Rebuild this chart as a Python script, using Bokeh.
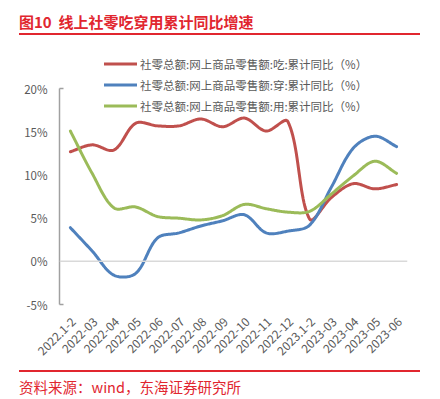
import numpy as np
from math import pi
from bokeh.plotting import figure
from bokeh.models import (Div, Span, Legend, LegendItem, FixedTicker, Range1d, LinearAxis)
from bokeh.layouts import column
from bokeh.embed import file_html
from bokeh.resources import INLINE

categories = ["2022.1-2", "2022-03", "2022-04", "2022-05", "2022-06", "2022-07",
              "2022-08", "2022-09", "2022-10", "2022-11", "2022-12", "2023.1-2",
              "2023-03", "2023-04", "2023-05", "2023-06"]
eat = [12.7, 13.5, 12.9, 16.0, 15.7, 15.7, 16.5, 15.6, 16.6, 15.1, 16.2, 4.9,
       7.4, 9.0, 8.4, 8.9]
wear = [3.9, 1.2, -1.6, -1.4, 2.7, 3.3, 4.1, 4.7, 5.4, 3.3, 3.5, 4.2,
        8.6, 13.1, 14.5, 13.3]
use = [15.1, 10.2, 6.2, 6.3, 5.2, 5.0, 4.8, 5.3, 6.6, 6.1, 5.7, 5.8,
       7.8, 9.9, 11.6, 10.2]
labels = ["社零总额:网上商品零售额:吃:累计同比（%）",
          "社零总额:网上商品零售额:穿:累计同比（%）",
          "社零总额:网上商品零售额:用:累计同比（%）"]
colors = ["#C0504D", "#4F81BD", "#9BBB59"]
yticks = [-5, 0, 5, 10, 15, 20]

FONT = "Noto Sans CJK SC"
RED = "#E1262F"
GRAY = "#595959"

# approximate pixel scale (px per unit) used only to shape the smoothing
SX, SY = 21.75, 8.54


def smooth(xs, ys, n=24):
    P = np.column_stack([np.asarray(xs, float) * SX, np.asarray(ys, float) * SY])
    m = len(P)
    tang = []
    for i in range(m):
        p0 = P[i - 1] if i > 0 else P[i]
        p2 = P[i + 1] if i < m - 1 else P[i]
        tang.append(p2 - p0)
    out_x, out_y = [], []
    t = np.linspace(0, 1, n, endpoint=False)
    for i in range(m - 1):
        p1, p2 = P[i], P[i + 1]
        d12 = np.linalg.norm(p2 - p1)
        d01 = np.linalg.norm(p1 - P[i - 1]) if i > 0 else d12
        d23 = np.linalg.norm(P[i + 2] - p2) if i + 2 < m else d12
        if i == 0:
            c1 = p1 + (p2 - p1) / 3.0
        else:
            c1 = p1 + tang[i] * (d12 / (d01 + d12)) / 3.0
        if i + 2 >= m:
            c2 = p2 - (p2 - p1) / 3.0
        else:
            c2 = p2 - tang[i + 1] * (d12 / (d12 + d23)) / 3.0
        for tt in t:
            b = ((1 - tt) ** 3) * p1 + 3 * ((1 - tt) ** 2) * tt * c1 \
                + 3 * (1 - tt) * tt * tt * c2 + tt ** 3 * p2
            out_x.append(b[0] / SX)
            out_y.append(b[1] / SY)
    out_x.append(P[-1][0] / SX)
    out_y.append(P[-1][1] / SY)
    return out_x, out_y


n = len(categories)
shift = 0.14  # label offset so rotated labels end just right of each point
p = figure(width=424, height=316, output_backend="svg", toolbar_location=None,
           x_range=Range1d(-0.5, n - 0.5), y_range=Range1d(-5, 24.55),
           x_axis_location=None,
           min_border_left=59, min_border_right=17, min_border_top=3,
           min_border_bottom=58)
p.extra_x_ranges = {"lab": Range1d(-0.5 - shift, n - 0.5 - shift)}
p.outline_line_color = None
p.xgrid.visible = False
p.ygrid.visible = False

p.add_layout(Span(location=0, dimension="width", line_color="#D9D9D9", line_width=1.5))

xs = list(range(n))
renderers = []
for series, col in zip([eat, wear, use], colors):
    sx, sy = smooth(xs, series)
    r = p.line(sx, sy, line_color=col, line_width=3, line_join="round", line_cap="round")
    renderers.append(r)

legend = Legend(items=[LegendItem(label=l, renderers=[r]) for l, r in zip(labels, renderers)],
                location=(45, 188), background_fill_alpha=0, border_line_color=None,
                label_text_font=FONT, label_text_font_size="11.5px", label_text_color=GRAY,
                glyph_width=33, glyph_height=21, label_height=21, spacing=0,
                padding=0, margin=0, label_standoff=3)
p.add_layout(legend)

p.yaxis.bounds = (-5, 20)
p.yaxis.ticker = FixedTicker(ticks=yticks, minor_ticks=[-5, 20])
p.yaxis.major_label_overrides = {v: f"{v}%" for v in yticks}
p.yaxis.major_tick_out = 0
p.yaxis.major_tick_in = 0
p.yaxis.minor_tick_in = 4
p.yaxis.minor_tick_out = 0
p.yaxis.minor_tick_line_color = "#A0A0A0"
p.yaxis.minor_tick_line_width = 1.5
p.yaxis.axis_line_color = "#A0A0A0"
p.yaxis.axis_line_width = 1.5
p.yaxis.major_label_standoff = 12
p.yaxis.major_label_text_font = FONT
p.yaxis.major_label_text_font_size = "11.5px"
p.yaxis.major_label_text_color = GRAY

xaxis = LinearAxis(x_range_name="lab", ticker=FixedTicker(ticks=xs),
                   major_label_overrides={i: c for i, c in enumerate(categories)},
                   major_label_orientation=pi / 4,
                   axis_line_color=None, major_tick_line_color=None,
                   minor_tick_line_color=None, major_label_standoff=9,
                   major_label_text_font=FONT, major_label_text_font_size="12px",
                   major_label_text_color=GRAY)
p.add_layout(xaxis, "below")

title = Div(width=424, height=36, text=(
    '<div style="position:relative;width:424px;height:36px;">'
    f'<div style="position:absolute;left:14px;top:7px;font-family:\'{FONT}\';font-weight:bold;'
    f'font-size:15px;line-height:20px;color:{RED};white-space:nowrap;">图10&nbsp;&nbsp;线上社零吃穿用累计同比增速</div>'
    f'<div style="position:absolute;left:14px;top:28px;width:401px;height:2px;background:{RED};"></div>'
    '</div>'))

source = Div(width=424, height=36, text=(
    '<div style="position:relative;width:424px;height:36px;">'
    f'<div style="position:absolute;left:14px;top:3px;width:401px;height:2px;background:{RED};"></div>'
    f'<div style="position:absolute;left:14px;top:11px;font-family:\'{FONT}\';'
    f'font-size:14.5px;line-height:18px;color:{RED};white-space:nowrap;">资料来源：wind，东海证券研究所</div>'
    '</div>'))

layout = column(title, p, source, spacing=0)

open("out.html", "w").write(file_html(layout, INLINE))
